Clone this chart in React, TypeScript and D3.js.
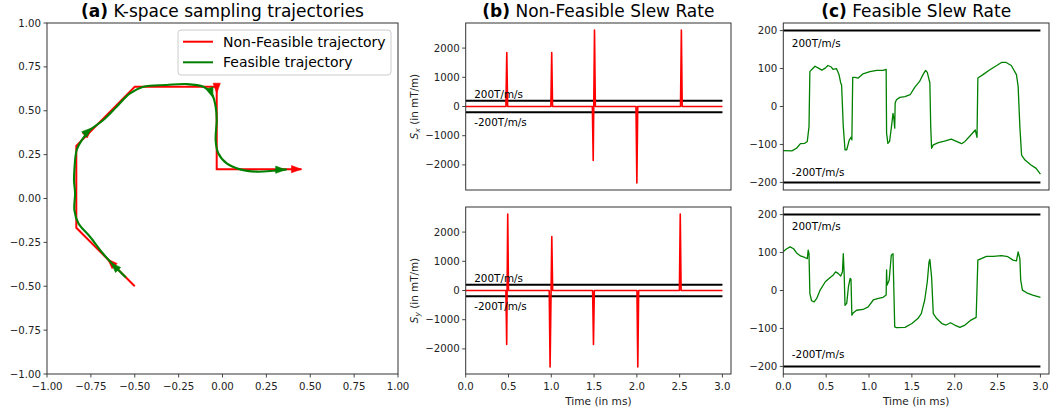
import React from 'react';
import * as d3 from 'd3';

// ---------- DATA ----------
// Panel (a) trajectories (k-space)
const redTraj: [number, number][] = [
  [-0.5, -0.5], [-0.833, -0.167], [-0.833, 0.3], [-0.5, 0.637], [-0.033, 0.637], [-0.033, 0.167], [0.45, 0.167],
];
const greenTraj: [number, number][] = [
  [-0.55, -0.45], [-0.603, -0.398], [-0.68, -0.315], [-0.755, -0.218], [-0.821, -0.141], [-0.844, -0.066],
  [-0.84, 0.03], [-0.846, 0.1], [-0.844, 0.162], [-0.831, 0.276], [-0.802, 0.333], [-0.755, 0.39],
  [-0.679, 0.447], [-0.603, 0.523], [-0.527, 0.599], [-0.451, 0.637], [-0.318, 0.647], [-0.204, 0.652],
  [-0.109, 0.637], [-0.062, 0.599], [-0.039, 0.523], [-0.033, 0.447], [-0.039, 0.333], [-0.024, 0.258],
  [0.024, 0.2], [0.1, 0.166], [0.195, 0.153], [0.29, 0.158], [0.366, 0.166],
];
// arrow heads: tip x, tip y, direction dx, dy
const redArrows: [number, number, number, number][] = [
  [-0.655, -0.345, -1, 1], [-0.745, 0.4, 1, 1], [-0.033, 0.6, 0, -1], [0.45, 0.167, 1, 0],
];
const greenArrows: [number, number, number, number][] = [
  [-0.635, -0.367, -1, 1], [-0.745, 0.402, 1, 0.85], [-0.055, 0.575, 0.35, -1], [0.36, 0.164, 1, 0],
];
const trajTicks = [-1, -0.75, -0.5, -0.25, 0, 0.25, 0.5, 0.75, 1];
const legendLabels = ['Non-Feasible trajectory', 'Feasible trajectory'];

// Panel (b) non-feasible slew rate [time ms, mT/m]
const sxNonFeasible: [number, number][] = [
  [0, 0], [0.47, 0], [0.48, 1850], [0.49, 0], [0.995, 0], [1.005, 1850], [1.015, 0],
  [1.48, 0], [1.49, -1850], [1.505, 2620], [1.515, 0], [1.99, 0], [2.0, -2620], [2.01, 0],
  [2.51, 0], [2.52, 2620], [2.53, 0], [3.0, 0],
];
const syNonFeasible: [number, number][] = [
  [0, 0], [0.47, 0], [0.479, -1850], [0.491, 2620], [0.5, 0], [0.976, 0], [0.986, -2620], [1.006, 1850],
  [1.016, 0], [1.483, 0], [1.493, -1850], [1.503, 0], [2.001, 0], [2.011, -2620], [2.021, 0],
  [2.497, 0], [2.507, 2620], [2.517, 0], [3.0, 0],
];
const slewTicksB = [-2000, -1000, 0, 1000, 2000];

// Panel (c) feasible slew rate
const sxFeasible: [number, number][] = [
  [0.0, -116], [0.1, -117], [0.155, -110], [0.2, -98], [0.25, -97], [0.28, -92], [0.3, -53], [0.31, 92],
  [0.33, 97], [0.37, 106], [0.41, 101], [0.45, 96], [0.49, 101], [0.52, 108], [0.56, 104], [0.58, 98],
  [0.62, 100], [0.65, 84], [0.67, 62], [0.68, 57], [0.7, -53], [0.72, -114], [0.74, -114], [0.77, -88],
  [0.79, -81], [0.8, -88], [0.81, 77], [0.835, 77], [0.875, 75], [0.93, 86], [1.01, 92], [1.09, 95],
  [1.165, 95], [1.2, 98], [1.205, -70], [1.22, -97], [1.24, -92], [1.26, -57], [1.28, -18], [1.29, -31],
  [1.3, -57], [1.305, 9], [1.32, 18], [1.36, 24], [1.42, 26], [1.48, 31], [1.535, 51], [1.59, 66],
  [1.63, 84], [1.66, 95], [1.68, 90], [1.71, 62], [1.72, -53], [1.73, -110], [1.75, -101], [1.81, -95],
  [1.88, -91], [1.96, -86], [2.02, -92], [2.08, -98], [2.12, -92], [2.18, -77], [2.24, -62], [2.26, -81],
  [2.27, 75], [2.33, 84], [2.41, 97], [2.49, 108], [2.545, 116], [2.6, 116], [2.66, 108], [2.72, 84],
  [2.74, 53], [2.76, -53], [2.78, -128], [2.82, -141], [2.89, -154], [2.95, -163], [3.0, -178],
];
const syFeasible: [number, number][] = [
  [0, 103], [0.04, 110], [0.08, 115], [0.12, 110], [0.155, 99], [0.2, 91], [0.25, 87], [0.28, 84],
  [0.29, 106], [0.3, 97], [0.31, -8], [0.33, -27], [0.36, -30], [0.39, -21], [0.43, 1], [0.49, 23],
  [0.54, 33], [0.58, 40], [0.61, 49], [0.64, 45], [0.67, 38], [0.69, 49], [0.7, 97], [0.71, 45],
  [0.72, -39], [0.74, -34], [0.76, 10], [0.78, 32], [0.79, 29], [0.8, -65], [0.815, -59], [0.855, -52],
  [0.93, -50], [0.99, -43], [1.05, -25], [1.11, -21], [1.165, -18], [1.2, -12], [1.205, 54], [1.21, 14],
  [1.235, 27], [1.26, 93], [1.28, 97], [1.3, -96], [1.32, -98], [1.42, -97], [1.5, -87], [1.57, -74],
  [1.61, -61], [1.65, -25], [1.68, 23], [1.7, 75], [1.71, 82], [1.73, 36], [1.75, -61], [1.79, -74],
  [1.85, -87], [1.9, -91], [1.95, -85], [2.0, -91], [2.06, -97], [2.12, -91], [2.19, -78], [2.25, -71],
  [2.27, 80], [2.31, 84], [2.37, 90], [2.45, 90], [2.545, 92], [2.62, 89], [2.68, 80], [2.72, 78],
  [2.74, 102], [2.76, 84], [2.77, 27], [2.79, 1], [2.84, -6], [2.91, -12], [3.0, -18],
];
const slewTicksC = [-200, -100, 0, 100, 200];
const timeTicks = [0, 0.5, 1, 1.5, 2, 2.5, 3];
const limitValue = 200;
const limitLabels = ['200T/m/s', '-200T/m/s'];

// ---------- STYLE ----------
const FONT = 'DejaVu Sans';
const SPINE = '#333';
const fmtMinus = (s: string) => s.replace('-', '\u2212');

type Box = { x0: number; x1: number; y0: number; y1: number };

function Frame({ b }: { b: Box }) {
  return <rect x={b.x0} y={b.y0} width={b.x1 - b.x0} height={b.y1 - b.y0} fill="none" stroke={SPINE} strokeWidth={1} />;
}

function YTicks({ b, scale, ticks, fmt }: { b: Box; scale: d3.ScaleLinear<number, number>; ticks: number[]; fmt: (v: number) => string }) {
  return (
    <g>
      {ticks.map((t) => (
        <g key={t}>
          <line x1={b.x0 - 3.5} x2={b.x0} y1={scale(t)} y2={scale(t)} stroke={SPINE} strokeWidth={0.9} />
          <text x={b.x0 - 6} y={scale(t)} dy="0.35em" textAnchor="end" fontSize={10.2} fill="#222" fontFamily={FONT}>
            {fmtMinus(fmt(t))}
          </text>
        </g>
      ))}
    </g>
  );
}

function XTicks({ b, scale, ticks, fmt }: { b: Box; scale: d3.ScaleLinear<number, number>; ticks: number[]; fmt: (v: number) => string }) {
  return (
    <g>
      {ticks.map((t) => (
        <g key={t}>
          <line x1={scale(t)} x2={scale(t)} y1={b.y1} y2={b.y1 + 3.5} stroke={SPINE} strokeWidth={0.9} />
          <text x={scale(t)} y={b.y1 + 16} textAnchor="middle" fontSize={10.2} fill="#222" fontFamily={FONT}>
            {fmtMinus(fmt(t))}
          </text>
        </g>
      ))}
    </g>
  );
}

function Arrow({ x, y, dx, dy, color }: { x: number; y: number; dx: number; dy: number; color: string }) {
  const ang = (Math.atan2(-dy, dx) * 180) / Math.PI;
  return (
    <path d="M0,0 L-10,-3.6 L-10,3.6 Z" fill={color} stroke={color} strokeWidth={0.6}
      transform={`translate(${x},${y}) rotate(${ang})`} />
  );
}

function SlewPanel({ b, data, color, yDomain, ticks, showX, lineW, labelY, labelX, limitLabelY }: any) {
  const x = d3.scaleLinear().domain([0, 3.1]).range([b.x0, b.x1]);
  const y = d3.scaleLinear().domain(yDomain).range([b.y1, b.y0]);
  const line = d3.line<[number, number]>().x((d) => x(d[0])).y((d) => y(d[1]));
  const fmtY = d3.format('d');
  return (
    <g>
      <line x1={x(0)} x2={x(3)} y1={y(limitValue)} y2={y(limitValue)} stroke="#000" strokeWidth={2} />
      <line x1={x(0)} x2={x(3)} y1={y(-limitValue)} y2={y(-limitValue)} stroke="#000" strokeWidth={2} />
      <path d={line(data) || ''} fill="none" stroke={color} strokeWidth={lineW} strokeLinejoin="round" />
      <text x={x(0.1)} y={y(limitLabelY[0])} fontSize={10.4} fontFamily={FONT} fill="#000">{limitLabels[0]}</text>
      <text x={x(0.1)} y={y(limitLabelY[1])} fontSize={10.4} fontFamily={FONT} fill="#000">{limitLabels[1]}</text>
      <Frame b={b} />
      <YTicks b={b} scale={y} ticks={ticks} fmt={fmtY} />
      {showX && <XTicks b={b} scale={x} ticks={timeTicks} fmt={d3.format('.1f')} />}
      {showX && (
        <text x={(b.x0 + b.x1) / 2} y={b.y1 + 30.5} textAnchor="middle" fontSize={10.6} fontFamily={FONT} fill="#222">
          Time (in ms)
        </text>
      )}
      {labelY && (
        <text transform={`translate(${labelX},${(b.y0 + b.y1) / 2}) rotate(-90)`} textAnchor="middle" fontSize={10.4} fontFamily={FONT} fill="#222">
          <tspan fontStyle="italic">S</tspan>
          <tspan fontStyle="italic" fontSize={7.5} dy={2}>{labelY}</tspan>
          <tspan dy={-2}> (in mT/m)</tspan>
        </text>
      )}
    </g>
  );
}

export default function App() {
  const W = 1055, H = 417;
  const A: Box = { x0: 47, x1: 398, y0: 23, y1: 374 };
  const B1: Box = { x0: 465.7, x1: 731, y0: 23, y1: 190 };
  const B2: Box = { x0: 465.7, x1: 731, y0: 207, y1: 374 };
  const C1: Box = { x0: 783.3, x1: 1049, y0: 23, y1: 190 };
  const C2: Box = { x0: 783.3, x1: 1049, y0: 207, y1: 374 };

  const ax = d3.scaleLinear().domain([-1, 1]).range([A.x0, A.x1]);
  const ay = d3.scaleLinear().domain([-1, 1]).range([A.y1, A.y0]);
  const redLine = d3.line<[number, number]>().x((d) => ax(d[0])).y((d) => ay(d[1]));
  const greenLine = d3.line<[number, number]>().x((d) => ax(d[0])).y((d) => ay(d[1])).curve(d3.curveCatmullRom.alpha(0.5));
  const fmtA = d3.format('.2f');

  return (
    <div style={{ position: 'absolute', left: 0, top: 0 }}>
      <svg width={W} height={H} style={{ display: 'block', background: '#fff' }}>
        {/* Titles */}
        <text x={(A.x0 + A.x1) / 2} y={16.5} textAnchor="middle" fontSize={17} fontFamily={FONT} fill="#000">
          <tspan fontWeight="bold">(a)</tspan> K-space sampling trajectories
        </text>
        <text x={(B1.x0 + B1.x1) / 2} y={16.5} textAnchor="middle" fontSize={17} fontFamily={FONT} fill="#000">
          <tspan fontWeight="bold">(b)</tspan> Non-Feasible Slew Rate
        </text>
        <text x={(C1.x0 + C1.x1) / 2} y={16.5} textAnchor="middle" fontSize={17} fontFamily={FONT} fill="#000">
          <tspan fontWeight="bold">(c)</tspan> Feasible Slew Rate
        </text>

        {/* Panel (a) */}
        <g>
          <path d={redLine(redTraj) || ''} fill="none" stroke="#ff0000" strokeWidth={2} strokeLinejoin="miter" />
          {redArrows.map((a, i) => (
            <Arrow key={'r' + i} x={ax(a[0])} y={ay(a[1])} dx={a[2]} dy={a[3]} color="#ff0000" />
          ))}
          <path d={greenLine(greenTraj) || ''} fill="none" stroke="#008000" strokeWidth={2.1} />
          {greenArrows.map((a, i) => (
            <Arrow key={'g' + i} x={ax(a[0])} y={ay(a[1])} dx={a[2]} dy={a[3]} color="#008000" />
          ))}
          <Frame b={A} />
          <YTicks b={A} scale={ay} ticks={trajTicks} fmt={fmtA} />
          <XTicks b={A} scale={ax} ticks={trajTicks} fmt={fmtA} />
          {/* Legend */}
          <rect x={178} y={30} width={213} height={45} rx={3} fill="#fff" fillOpacity={0.8} stroke="#cccccc" strokeWidth={1} />
          <line x1={183} x2={213} y1={41.7} y2={41.7} stroke="#ff0000" strokeWidth={2} />
          <line x1={183} x2={213} y1={62.3} y2={62.3} stroke="#008000" strokeWidth={2} />
          <text x={223} y={46.7} fontSize={14} fontFamily={FONT} fill="#000">{legendLabels[0]}</text>
          <text x={223} y={67.3} fontSize={14} fontFamily={FONT} fill="#000">{legendLabels[1]}</text>
        </g>

        {/* Panel (b) */}
        <SlewPanel b={B1} data={sxNonFeasible} color="#ff0000" yDomain={[-2860, 2860]} ticks={slewTicksB}
          showX={false} lineW={1.6} labelY="x" labelX={418} limitLabelY={[290, -665]} />
        <SlewPanel b={B2} data={syNonFeasible} color="#ff0000" yDomain={[-2860, 2860]} ticks={slewTicksB}
          showX={true} lineW={1.6} labelY="y" labelX={418} limitLabelY={[280, -675]} />

        {/* Panel (c) */}
        <SlewPanel b={C1} data={sxFeasible} color="#008000" yDomain={[-220, 220]} ticks={slewTicksC}
          showX={false} lineW={1.3} labelY={null} limitLabelY={[158, -182]} />
        <SlewPanel b={C2} data={syFeasible} color="#008000" yDomain={[-220, 220]} ticks={slewTicksC}
          showX={true} lineW={1.3} labelY={null} limitLabelY={[160, -179]} />
      </svg>
    </div>
  );
}
